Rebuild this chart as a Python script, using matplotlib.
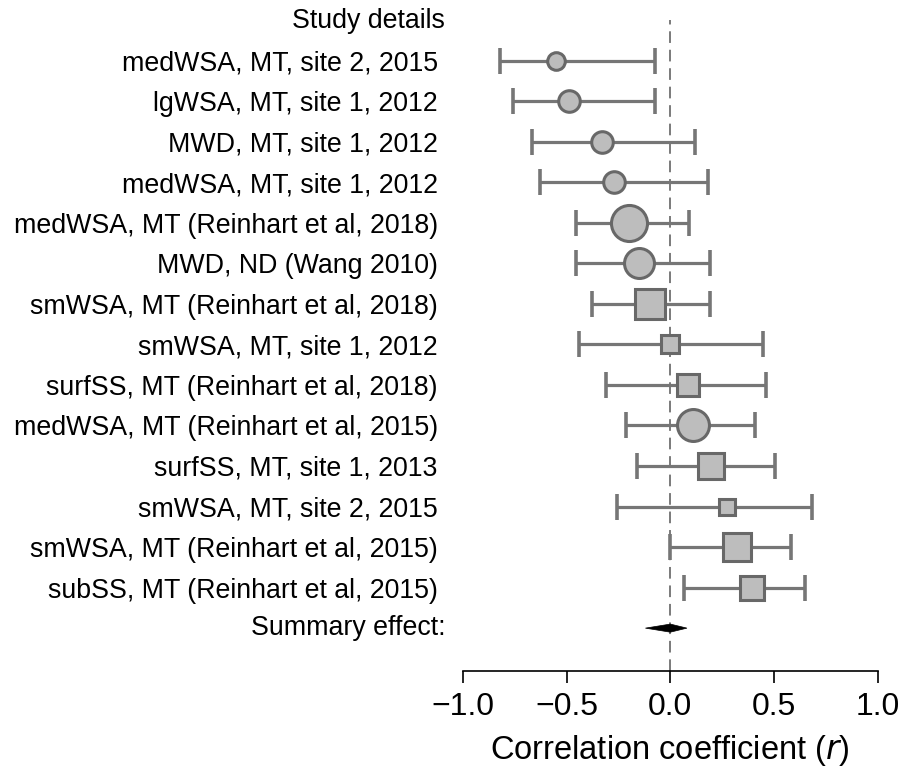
import numpy as np
import matplotlib.pyplot as plt
from matplotlib.patches import Polygon

plt.rcParams['font.family'] = ['Liberation Sans', 'DejaVu Sans']

# Datos del forest plot (de arriba hacia abajo)
studies = [
    "medWSA, MT, site 2, 2015",
    "lgWSA, MT, site 1, 2012",
    "MWD, MT, site 1, 2012",
    "medWSA, MT, site 1, 2012",
    "medWSA, MT (Reinhart et al, 2018)",
    "MWD, ND (Wang 2010)",
    "smWSA, MT (Reinhart et al, 2018)",
    "smWSA, MT, site 1, 2012",
    "surfSS, MT (Reinhart et al, 2018)",
    "medWSA, MT (Reinhart et al, 2015)",
    "surfSS, MT, site 1, 2013",
    "smWSA, MT, site 2, 2015",
    "smWSA, MT (Reinhart et al, 2015)",
    "subSS, MT (Reinhart et al, 2015)",
]
r_est = [-0.55, -0.49, -0.33, -0.27, -0.20, -0.15, -0.10, 0.00, 0.085, 0.11, 0.195, 0.275, 0.32, 0.395]
ci_low = [-0.82, -0.76, -0.665, -0.63, -0.455, -0.455, -0.375, -0.44, -0.31, -0.215, -0.16, -0.255, 0.00, 0.065]
ci_high = [-0.075, -0.075, 0.12, 0.18, 0.09, 0.19, 0.19, 0.445, 0.46, 0.41, 0.505, 0.68, 0.58, 0.65]
weight = [3.8, 5.4, 5.4, 5.4, 13.6, 9.7, 10.3, 4.2, 5.4, 10.9, 7.4, 3.1, 8.5, 6.9]
shape = ['o', 'o', 'o', 'o', 'o', 'o', 's', 's', 's', 'o', 's', 's', 's', 's']

# Efecto resumen
summary_est = 0.0
summary_low = -0.12
summary_high = 0.08

fig = plt.figure(figsize=(9.03, 7.8), dpi=100)
ax = fig.add_axes([462.7 / 903, 1 - 670.7 / 780, 415.3 / 903, (670.7 - 20) / 780])

line_col = '#767676'
edge_col = '#686868'
fill_col = '#bdbdbd'
mew = 2.2

ax.axvline(0, color='#7a7a7a', lw=1.4, ls=(0, (6, 3.5)), zorder=1)

y = np.arange(len(studies))
for i in range(len(studies)):
    ax.errorbar(r_est[i], y[i], xerr=[[r_est[i] - ci_low[i]], [ci_high[i] - r_est[i]]],
                fmt='none', ecolor=line_col, elinewidth=2.3, capsize=9.5, capthick=2.6, zorder=2)
    d_px = 10.6 * np.sqrt(weight[i])
    ms = d_px * 0.72 - mew
    ax.plot(r_est[i], y[i], marker=shape[i], ms=ms, mfc=fill_col, mec=edge_col,
            mew=mew, ls='none', zorder=3)

# Diamante del efecto resumen
ys = len(studies)
h = 0.1
diamond = Polygon([(summary_low, ys), (summary_est, ys - h), (summary_high, ys), (summary_est, ys + h)],
                  closed=True, facecolor='black', edgecolor='black', lw=0.5, zorder=4)
ax.add_patch(diamond)

ax.set_xlim(-1, 1)
ax.set_ylim(15.05, -1.0)

ax.set_yticks(y)
ax.set_yticklabels(studies, fontsize=19.3)
ax.tick_params(axis='y', length=0, pad=18)

ax.annotate("Study details", xy=(0, -0.97), xycoords=('axes fraction', 'data'),
            xytext=(-12.5, 0), textcoords='offset points', ha='right', va='center', fontsize=19.3)
ax.annotate("Summary effect:", xy=(0, ys), xycoords=('axes fraction', 'data'),
            xytext=(-12.5, 0), textcoords='offset points', ha='right', va='center', fontsize=19.3)

ax.set_xticks([-1.0, -0.5, 0.0, 0.5, 1.0])
ax.set_xticklabels(['\u22121.0', '\u22120.5', '0.0', '0.5', '1.0'], fontsize=23)
ax.tick_params(axis='x', length=8.5, width=1.2, pad=7, direction='out')
ax.set_xlabel('Correlation coefficient ($\\it{r}$)', fontsize=23.5, labelpad=8)

for s in ['top', 'right', 'left']:
    ax.spines[s].set_visible(False)
ax.spines['bottom'].set_linewidth(1.2)

fig.savefig('out.png', dpi=100)
